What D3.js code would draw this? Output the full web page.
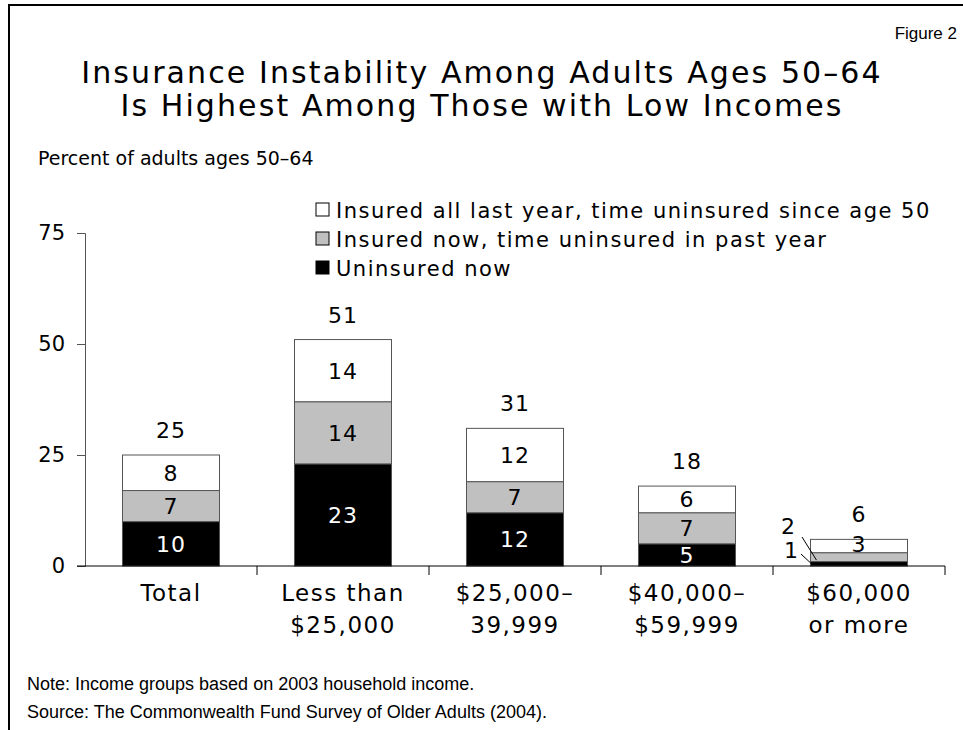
<!DOCTYPE html>
<html><head><meta charset="utf-8">
<script src="https://cdn.jsdelivr.net/npm/d3@7"></script>
<style>body{margin:0;background:#fff}svg{display:block}</style>
</head><body>
<svg id="c" width="963" height="730"></svg>
<script>
const categories = [["Total"], ["Less than", "$25,000"], ["$25,000–", "39,999"], ["$40,000–", "$59,999"], ["$60,000", "or more"]];
const uninsuredNow = [10, 23, 12, 5, 1];
const insuredNowPastYear = [7, 14, 7, 7, 2];
const insuredAllSince50 = [8, 14, 12, 6, 3];
const totals = [25, 51, 31, 18, 6];
const yTicks = [0, 25, 50, 75];
const seriesNames = ["Uninsured now", "Insured now, time uninsured in past year", "Insured all last year, time uninsured since age 50"];
const seriesColors = ["#000000", "#c0c0c0", "#ffffff"];
const labelColors = ["#ffffff", "#000000", "#000000"];

const svg = d3.select("#c");
const MAIN = "DejaVu Sans, Verdana, sans-serif";
const ARIAL = "Liberation Sans, Arial, sans-serif";

// frame
svg.append("path").attr("d", "M9,740 L9,5 L970,5").attr("fill", "none").attr("stroke", "#000").attr("stroke-width", 2);

svg.append("text").attr("x", 957).attr("y", 39).attr("text-anchor", "end")
  .attr("font-family", ARIAL).attr("font-size", 17).text("Figure 2");
svg.append("text").attr("x", 482).attr("y", 83).attr("text-anchor", "middle")
  .attr("font-family", MAIN).attr("font-size", 30).attr("letter-spacing", 2.1).text("Insurance Instability Among Adults Ages 50–64");
svg.append("text").attr("x", 482).attr("y", 116).attr("text-anchor", "middle")
  .attr("font-family", MAIN).attr("font-size", 30).attr("letter-spacing", 2.1).text("Is Highest Among Those with Low Incomes");
svg.append("text").attr("x", 38).attr("y", 165)
  .attr("font-family", MAIN).attr("font-size", 19).text("Percent of adults ages 50–64");

const x = d3.scaleBand().domain(d3.range(categories.length)).range([85, 945]).paddingInner(0.436).paddingOuter(0.218);
const y = d3.scaleLinear().domain([0, 75]).range([566, 233]);

// y axis
const ya = svg.append("g").attr("transform", "translate(85,0)")
  .call(d3.axisLeft(y).tickValues(yTicks).tickSize(8).tickPadding(12));
ya.select(".domain").attr("stroke", "#555");
ya.selectAll(".tick line").attr("stroke", "#555");
ya.selectAll("text").attr("font-family", MAIN).attr("font-size", 21).attr("fill", "#000");

// stacked bars
const stackData = categories.map((c, i) => ({i, s0: uninsuredNow[i], s1: insuredNowPastYear[i], s2: insuredAllSince50[i]}));
const stack = d3.stack().keys(["s0", "s1", "s2"])(stackData);
stack.forEach((layer, k) => {
  svg.append("g").selectAll("rect").data(layer).join("rect")
    .attr("x", d => x(d.data.i)).attr("width", x.bandwidth())
    .attr("y", d => y(d[1])).attr("height", d => y(d[0]) - y(d[1]))
    .attr("fill", seriesColors[k]).attr("stroke", "#555").attr("stroke-width", 1);
});

// x axis
svg.append("line").attr("x1", 77).attr("x2", 945).attr("y1", y(0)).attr("y2", y(0)).attr("stroke", "#000");
const bounds = d3.range(1, categories.length + 1).map(i => 85 + i * x.step());
svg.selectAll(".xt").data(bounds).join("line").attr("class", "xt")
  .attr("x1", d => d).attr("x2", d => d).attr("y1", y(0)).attr("y2", y(0) + 9).attr("stroke", "#000");
categories.forEach((lines, i) => {
  const t = svg.append("text").attr("text-anchor", "middle").attr("font-family", MAIN).attr("font-size", 23).attr("letter-spacing", 1.5);
  lines.forEach((l, j) => t.append("tspan").attr("x", x(i) + x.bandwidth() / 2).attr("y", 601 + j * 32).text(l));
});

// segment labels
stack.forEach((layer, k) => {
  layer.forEach(d => {
    const i = d.data.i;
    const v = d[1] - d[0];
    const cx = x(i) + x.bandwidth() / 2;
    if (i === 4 && k < 2) return;
    let cy = (y(d[0]) + y(d[1])) / 2;
    if (i === 4 && k === 2) cy = y(d[0]) - 9;
    svg.append("text").attr("x", cx).attr("y", cy).attr("dy", "0.36em").attr("text-anchor", "middle")
      .attr("font-family", MAIN).attr("font-size", 22).attr("letter-spacing", 1).attr("fill", labelColors[k]).text(v);
  });
});
// callouts for small segments of last bar
{
  const i = 4, left = x(i);
  const g = stack[1][i], b = stack[0][i];
  svg.append("text").attr("x", 788).attr("y", 534).attr("text-anchor", "middle").attr("font-family", MAIN).attr("font-size", 22).text(insuredNowPastYear[i]);
  svg.append("text").attr("x", 791).attr("y", 558).attr("text-anchor", "middle").attr("font-family", MAIN).attr("font-size", 22).text(uninsuredNow[i]);
  svg.append("line").attr("x1", 802).attr("y1", 537).attr("x2", left + 6).attr("y2", y((g[0] + g[1]) / 2) + 3).attr("stroke", "#000");
  svg.append("line").attr("x1", 801).attr("y1", 554).attr("x2", left + 1).attr("y2", y((b[0] + b[1]) / 2)).attr("stroke", "#000");
}
// totals
svg.selectAll(".tot").data(totals).join("text").attr("class", "tot")
  .attr("x", (d, i) => x(i) + x.bandwidth() / 2).attr("y", d => y(d) - 17)
  .attr("text-anchor", "middle").attr("font-family", MAIN).attr("font-size", 22).attr("letter-spacing", 1).text(d => d);

// legend
const leg = [2, 1, 0];
leg.forEach((k, r) => {
  const cy = 210 + r * 29;
  svg.append("rect").attr("x", 316).attr("y", cy - 7).attr("width", 13).attr("height", 13)
    .attr("fill", seriesColors[k]).attr("stroke", "#000").attr("stroke-width", 1);
  svg.append("text").attr("x", 336).attr("y", cy).attr("dy", "0.36em").attr("font-family", MAIN).attr("font-size", 21).attr("letter-spacing", 1.5).text(seriesNames[k]);
});

svg.append("text").attr("x", 27).attr("y", 690).attr("font-family", ARIAL).attr("font-size", 18).text("Note: Income groups based on 2003 household income.");
svg.append("text").attr("x", 27).attr("y", 718).attr("font-family", ARIAL).attr("font-size", 18).text("Source: The Commonwealth Fund Survey of Older Adults (2004).");
</script>
</body></html>
